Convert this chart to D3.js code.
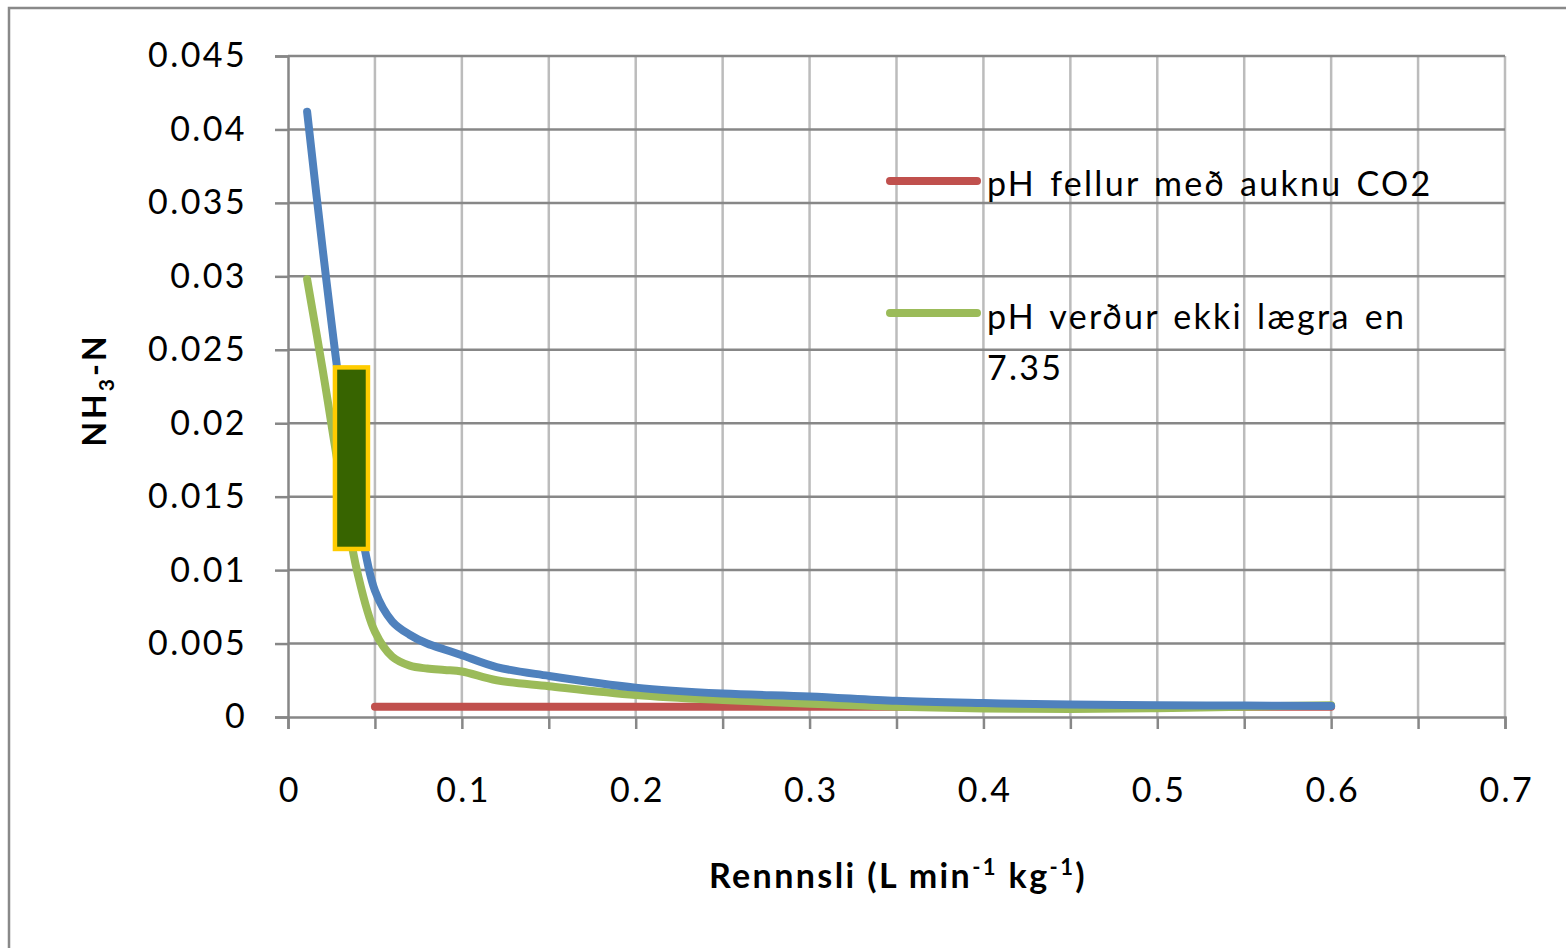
<!DOCTYPE html>
<html>
<head>
<meta charset="utf-8">
<script src="https://cdn.jsdelivr.net/npm/d3@7"></script>
<style>
  body { margin: 0; background: #fff; }
  svg text { font-family: Lato, "Open Sans", sans-serif; fill: #000; }
</style>
</head>
<body>
<div id="chart"></div>
<script>
// ---- data ----
var blueX = [0.011, 0.02, 0.03, 0.04, 0.05, 0.06, 0.07, 0.08, 0.09, 0.1, 0.12, 0.15, 0.2, 0.25, 0.3, 0.35, 0.4, 0.45, 0.5, 0.55, 0.6];
var blueY = [0.0412, 0.0318, 0.0222, 0.0142, 0.0086, 0.0065, 0.0056, 0.0050, 0.0046, 0.0042, 0.0034, 0.0028, 0.0020, 0.0016, 0.0014, 0.0011, 0.00095, 0.00085, 0.0008, 0.00078, 0.00075];

var greenX = [0.011, 0.02, 0.03, 0.04, 0.05, 0.06, 0.07, 0.08, 0.09, 0.1, 0.12, 0.15, 0.2, 0.25, 0.3, 0.35, 0.4, 0.45, 0.5, 0.55, 0.6];
var greenY = [0.0298, 0.0236, 0.0163, 0.0098, 0.0058, 0.0041, 0.0035, 0.0033, 0.0032, 0.0031, 0.0025, 0.0021, 0.0015, 0.00115, 0.0009, 0.0007, 0.00058, 0.00055, 0.0006, 0.0007, 0.0008];

var redX = [0.05, 0.6];
var redY = [0.0007, 0.0007];

var legendNames = ["pH fellur með auknu CO2", "pH verður ekki lægra en 7.35"];

// highlighted box drawn over the curves (data units)
var boxX = [0.027, 0.046];
var boxY = [0.01144, 0.0238];

var xTicks = d3.range(0, 0.71, 0.1);
var xMinorTicks = d3.range(0, 0.701, 0.05);
var yTicks = d3.range(0, 0.0451, 0.005);

// ---- chart set up ----
var svgWidth = 1566;
var svgHeight = 948;
var margin = { top: 56, right: 61, bottom: 231, left: 288 };
var width = svgWidth - margin.left - margin.right;
var height = svgHeight - margin.top - margin.bottom;

var svg = d3.select("#chart")
  .append("svg")
  .attr("width", svgWidth)
  .attr("height", svgHeight);

// outer chart border
svg.append("rect")
  .attr("x", 9).attr("y", 8)
  .attr("width", 1570).attr("height", 960)
  .attr("fill", "none")
  .attr("stroke", "#898989")
  .attr("stroke-width", 2.5);

var chartGroup = svg.append("g")
  .attr("transform", `translate(${margin.left}, ${margin.top})`);

var xScale = d3.scaleLinear().domain([0, 0.7]).range([0, width]);
var yScale = d3.scaleLinear().domain([0, 0.045]).range([height, 0]);

// vertical grid lines
chartGroup.append("g")
  .selectAll("line")
  .data(xMinorTicks.slice(1))
  .enter()
  .append("line")
  .attr("x1", d => xScale(d)).attr("x2", d => xScale(d))
  .attr("y1", 0).attr("y2", height)
  .attr("stroke", "#bcbcbc")
  .attr("stroke-width", 2.5);

// horizontal grid lines
chartGroup.append("g")
  .selectAll("line")
  .data(yTicks.slice(1))
  .enter()
  .append("line")
  .attr("x1", 0).attr("x2", width)
  .attr("y1", d => yScale(d)).attr("y2", d => yScale(d))
  .attr("stroke", "#878787")
  .attr("stroke-width", 2.5);

// axes
var leftAxis = d3.axisLeft(yScale)
  .tickValues(yTicks)
  .tickSize(13)
  .tickPadding(28)
  .tickFormat(d => +d.toFixed(3) + "");

var bottomAxis = d3.axisBottom(xScale)
  .tickValues(xMinorTicks)
  .tickSize(12)
  .tickPadding(66)
  .tickFormat(d => {
    var r = Math.round(d * 100);
    return r % 10 === 0 ? +(d.toFixed(1)) + "" : "";
  });

var yAxis = chartGroup.append("g").call(leftAxis);
var xAxis = chartGroup.append("g")
  .attr("transform", `translate(0, ${height})`)
  .call(bottomAxis);

[yAxis, xAxis].forEach(function(ax) {
  ax.select(".domain").attr("stroke", "#878787").attr("stroke-width", 2.5);
  ax.selectAll(".tick line").attr("stroke", "#878787").attr("stroke-width", 2.5);
  ax.selectAll(".tick text")
    .style("font-family", "Lato, 'Open Sans', sans-serif")
    .style("font-size", "34px")
    .style("letter-spacing", "2.4px")
    .attr("fill", "#000");
});
xAxis.selectAll(".tick text").attr("dy", "0.2em").attr("dx", "1.2px");

// series lines
var line = d3.line()
  .x(d => xScale(d[0]))
  .y(d => yScale(d[1]))
  .curve(d3.curveCatmullRom.alpha(0.5));

var series = [
  { xs: redX, ys: redY, color: "#c0504d" },
  { xs: greenX, ys: greenY, color: "#9bbb59" },
  { xs: blueX, ys: blueY, color: "#4f81bd" }
];

series.forEach(function(s) {
  var pts = s.xs.map((x, i) => [x, s.ys[i]]);
  chartGroup.append("path")
    .datum(pts)
    .attr("d", line)
    .attr("fill", "none")
    .attr("stroke", s.color)
    .attr("stroke-width", 8)
    .attr("stroke-linecap", "round")
    .attr("stroke-linejoin", "round");
});

// highlighted box
chartGroup.append("rect")
  .attr("x", xScale(boxX[0]))
  .attr("y", yScale(boxY[1]))
  .attr("width", xScale(boxX[1]) - xScale(boxX[0]))
  .attr("height", yScale(boxY[0]) - yScale(boxY[1]))
  .attr("fill", "#376400")
  .attr("stroke", "#ffcc00")
  .attr("stroke-width", 4.5);

// legend
var legend = svg.append("g");
var legendColors = ["#c0504d", "#9bbb59"];
var legendY = [181, 313];

legend.selectAll("line")
  .data(legendNames)
  .enter()
  .append("line")
  .attr("x1", 890).attr("x2", 977)
  .attr("y1", (d, i) => legendY[i]).attr("y2", (d, i) => legendY[i])
  .attr("stroke", (d, i) => legendColors[i])
  .attr("stroke-width", 8)
  .attr("stroke-linecap", "round");

legend.append("text")
  .attr("x", 987).attr("y", 196)
  .style("font-size", "34px")
  .style("letter-spacing", "2.3px")
  .style("word-spacing", "3px")
  .text(legendNames[0]);

var g2 = legend.append("text")
  .attr("x", 987).attr("y", 329)
  .style("font-size", "34px")
  .style("letter-spacing", "2.3px")
  .style("word-spacing", "3px");
g2.append("tspan").text("pH verður ekki lægra en");
g2.append("tspan").attr("x", 987).attr("dy", 51).text("7.35");

// axis titles
var xTitle = svg.append("text")
  .attr("x", 898).attr("y", 888)
  .attr("text-anchor", "middle")
  .style("font-size", "34px")
  .style("font-weight", "bold")
  .style("letter-spacing", "2.4px");
xTitle.append("tspan").text("Rennnsli (L min");
xTitle.append("tspan").attr("dy", -13).style("font-size", "22px").text("-1");
xTitle.append("tspan").attr("dy", 13).text(" kg");
xTitle.append("tspan").attr("dy", -13).style("font-size", "22px").text("-1");
xTitle.append("tspan").attr("dy", 13).text(")");

var yTitle = svg.append("text")
  .attr("transform", "translate(106, 390) rotate(-90)")
  .attr("text-anchor", "middle")
  .style("font-size", "32px")
  .style("font-weight", "bold")
  .style("letter-spacing", "3px");
yTitle.append("tspan").text("NH");
yTitle.append("tspan").attr("dy", 8).style("font-size", "21px").text("3");
yTitle.append("tspan").attr("dy", -8).text("-N");
</script>
</body>
</html>
